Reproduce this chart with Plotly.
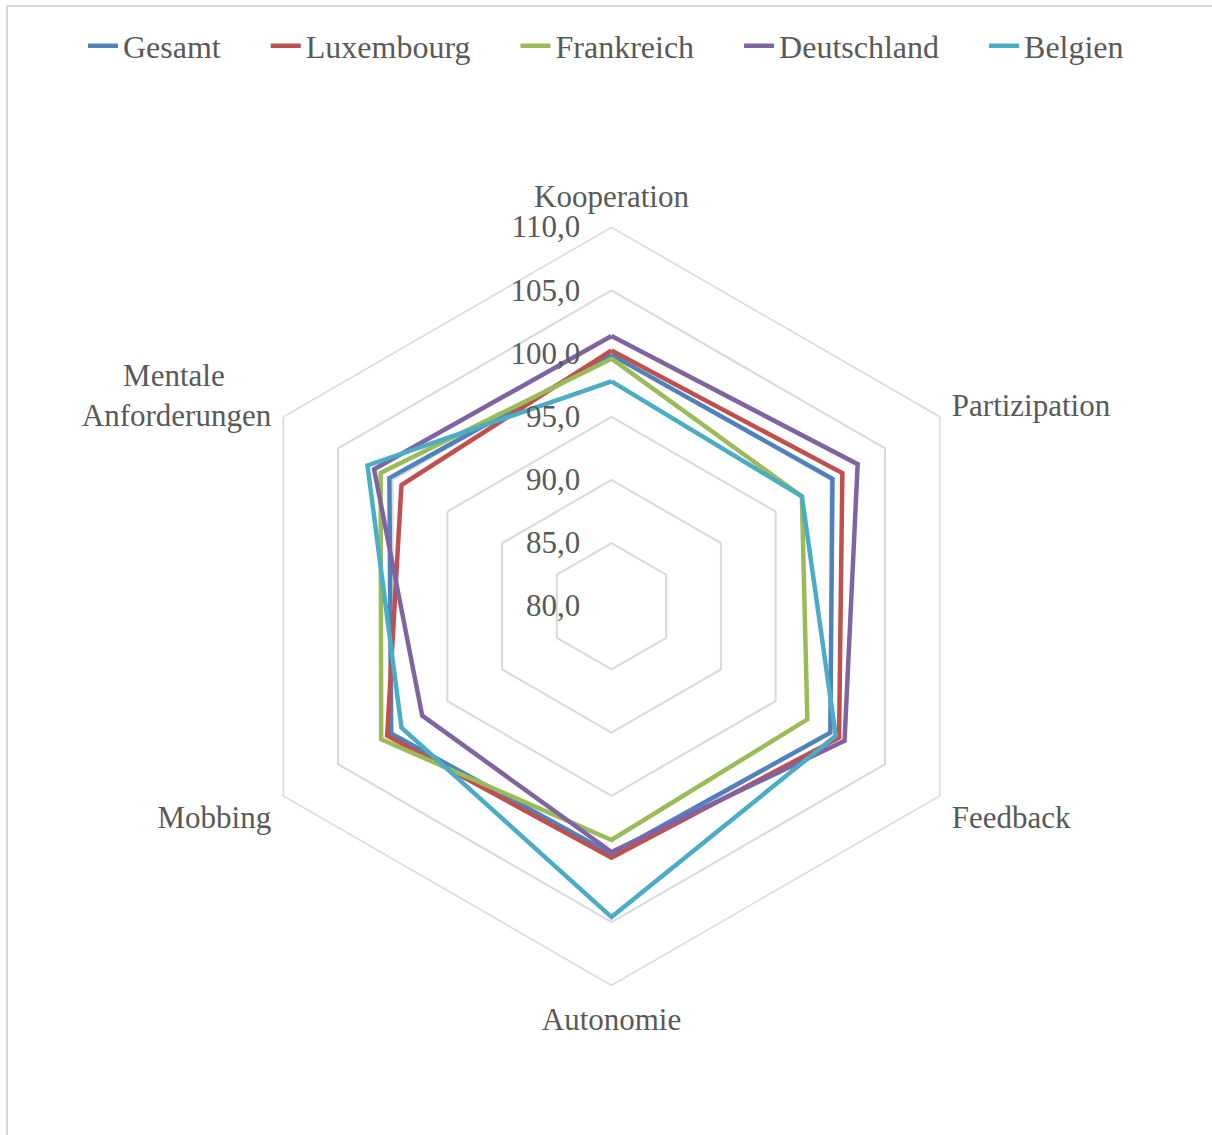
import plotly.graph_objects as go

NB = "\u00a0"
categories = ["Kooperation", "Partizipation", "Feedback", "Autonomie", "Mobbing",
              "Mentale" + NB * 6 + "<br>Anforderungen"]
series_names = ["Gesamt", "Luxembourg", "Frankreich", "Deutschland", "Belgien"]
gesamt = [99.9, 100.2, 100.0, 99.6, 100.15, 100.3]
luxembourg = [100.25, 101.1, 100.8, 99.9, 100.5, 99.2]
frankreich = [99.6, 97.4, 97.9, 98.5, 101.05, 101.1]
deutschland = [101.4, 102.5, 101.3, 99.45, 97.3, 101.7]
belgien = [97.8, 97.4, 100.5, 104.6, 99.2, 102.3]
colors = ["#4F81BD", "#C0504D", "#9BBB59", "#8064A2", "#4BACC6"]
radial_ticks = [80, 85, 90, 95, 100, 105, 110]

W, H = 1212, 1135
cx, cy, R = 611.5, 606.3, 379

fig = go.Figure()
all_vals = [gesamt, luxembourg, frankreich, deutschland, belgien]
for i, (name, vals, col) in enumerate(zip(series_names, all_vals, colors)):
    label = name if i == len(series_names) - 1 else name + NB * 5
    fig.add_trace(go.Scatterpolar(
        r=vals + vals[:1], theta=categories + categories[:1], mode="lines", name=label,
        line=dict(color=col, width=4.5), cliponaxis=False))

font_fam = "Liberation Serif, Times New Roman, serif"
fig.update_layout(
    width=W, height=H, margin=dict(l=0, r=0, t=0, b=0),
    paper_bgcolor="white", plot_bgcolor="white",
    separators=", ",
    font=dict(family=font_fam, size=31, color="#595959"),
    polar=dict(
        domain=dict(x=[(cx - R) / W, (cx + R) / W], y=[(H - cy - R) / H, (H - cy + R) / H]),
        gridshape="linear", bgcolor="white",
        radialaxis=dict(range=[80, 110], tickvals=radial_ticks, tickformat=".1f",
                        showline=False, ticks="outside", ticklen=20, tickcolor="rgba(0,0,0,0)",
                        gridcolor="#D9D9D9", gridwidth=1.5,
                        angle=90, tickangle=90, side="counterclockwise",
                        tickfont=dict(size=31, color="#595959", family=font_fam)),
        angularaxis=dict(rotation=90, direction="clockwise", showgrid=False, showline=True,
                         linecolor="#D9D9D9", linewidth=1.5, ticks="outside", ticklen=7,
                         tickcolor="rgba(0,0,0,0)",
                         tickfont=dict(size=31, color="#595959", family=font_fam)),
    ),
    legend=dict(orientation="h", x=0.5, xanchor="center", y=1 - 46 / H, yanchor="middle",
                font=dict(size=32, color="#595959", family=font_fam),
                bgcolor="rgba(0,0,0,0)"),
    showlegend=True,
    shapes=[
        dict(type="line", xref="paper", yref="paper", x0=7 / W, x1=1.0, y0=1 - 6 / H, y1=1 - 6 / H,
             line=dict(color="#D9D9D9", width=2)),
        dict(type="line", xref="paper", yref="paper", x0=7 / W, x1=7 / W, y0=0, y1=1 - 6 / H,
             line=dict(color="#D9D9D9", width=2)),
    ],
)

fig.write_html("out.html", config={"displayModeBar": False},
               post_script="document.body.style.margin='0';")
